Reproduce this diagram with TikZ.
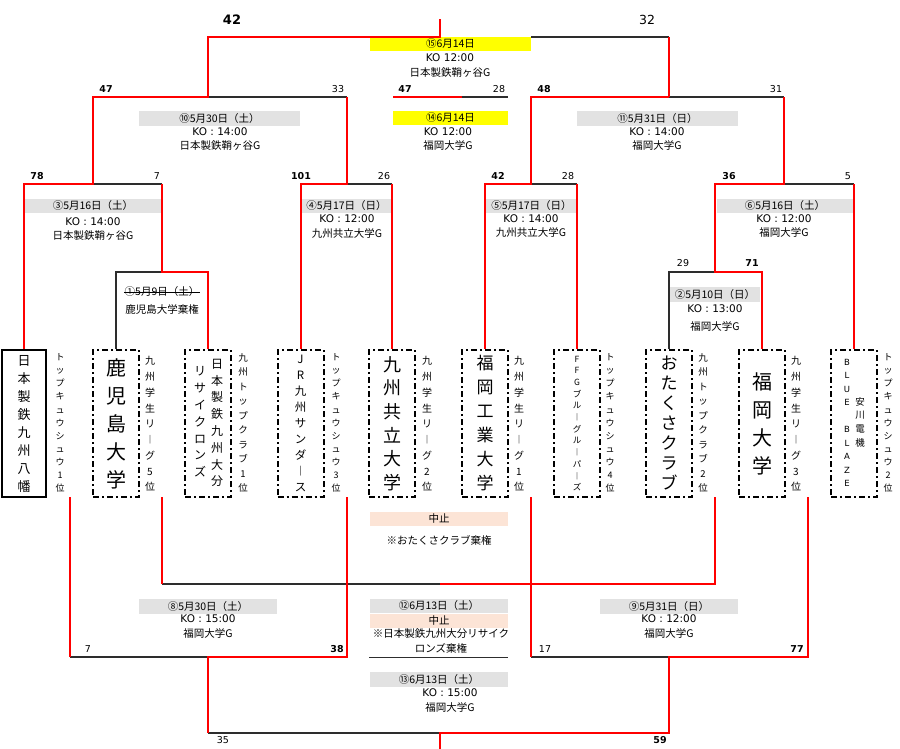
\documentclass[tikz,border=0pt]{standalone}
\usepackage{fontspec}
\setmainfont{Noto Sans CJK JP}
\newfontfamily\latinfont{DejaVu Sans}
\usetikzlibrary{positioning}

\definecolor{winred}{RGB}{255,0,0}
\definecolor{loseline}{RGB}{45,45,45}
\definecolor{dategrey}{RGB}{226,226,226}
\definecolor{finalyellow}{RGB}{255,255,0}
\definecolor{cancelpink}{RGB}{252,228,214}

\tikzstyle{win} = [draw=winred, line width=2pt]
\tikzstyle{lose} = [draw=loseline, line width=1.4pt]
\tikzstyle{teambox} = [rectangle, draw=black, line width=2pt, dash pattern=on 6pt off 3pt on 2pt off 3pt, minimum width=46pt, minimum height=147pt, inner sep=0pt, align=center]
\tikzstyle{solidbox} = [rectangle, draw=black, line width=2pt, minimum width=44pt, minimum height=147pt, inner sep=0pt, align=center]
\tikzstyle{dateband} = [rectangle, fill=dategrey, minimum height=14.5pt, inner sep=0pt, font=\fontsize{10.5}{12}\selectfont]
\tikzstyle{info} = [inner sep=0pt, align=center, font=\fontsize{10.5}{14.5}\selectfont]
\tikzstyle{score} = [inner sep=0pt, font=\latinfont\fontsize{9.5}{10}\selectfont]
\tikzstyle{winscore} = [inner sep=0pt, font=\latinfont\bfseries\fontsize{9.5}{10}\selectfont]
\tikzstyle{league} = [inner sep=0pt, align=center]

\begin{document}
\begin{tikzpicture}[x=1pt, y=-1pt]
\useasboundingbox (0,0) rectangle (900,749);

% Teams
\node (t1) [solidbox, font=\fontsize{13}{18}\selectfont] at (24,423.5) {日\\本\\製\\鉄\\九\\州\\八\\幡};
\node (t2) [teambox, font=\fontsize{20}{28}\selectfont] at (116,423.5) {鹿\\児\\島\\大\\学};
\node (t3) [teambox] at (208,423.5) {};
\node (t3a) [league, font=\fontsize{12}{16.8}\selectfont] at (200,422) {リ\\サ\\イ\\ク\\ロ\\ン\\ズ};
\node (t3b) [league, font=\fontsize{12}{16.8}\selectfont] at (217,423) {日\\本\\製\\鉄\\九\\州\\大\\分};
\node (t4) [teambox, font=\fontsize{11.5}{16}\selectfont] at (300.5,423.5) {J\\R\\九\\州\\サ\\ン\\ダ\\︱\\ス};
\node (t5) [teambox, font=\fontsize{18}{23.6}\selectfont] at (392,423.5) {九\\州\\共\\立\\大\\学};
\node (t6) [teambox, font=\fontsize{17}{24}\selectfont] at (485,423.5) {福\\岡\\工\\業\\大\\学};
\node (t7) [teambox, font=\fontsize{8.5}{11.7}\selectfont] at (577,423.5) {F\\F\\G\\ブ\\ル\\︱\\グ\\ル\\︱\\パ\\︱\\ズ};
\node (t8) [teambox, font=\fontsize{17}{20}\selectfont] at (669,423.5) {お\\た\\く\\さ\\ク\\ラ\\ブ};
\node (t9) [teambox, font=\fontsize{20}{28}\selectfont] at (762,423.5) {福\\岡\\大\\学};
\node (t10) [teambox] at (854,423.5) {};
\node (t10a) [league, font=\latinfont\fontsize{8.5}{13.5}\selectfont] at (847,423) {B\\L\\U\\E\\\mbox{}\\B\\L\\A\\Z\\E};
\node (t10b) [league, font=\fontsize{9.5}{13.7}\selectfont] at (860,422) {安\\川\\電\\機};

% Leagues
\node (l1) [league, font=\fontsize{9}{13.1}\selectfont] at (60,423) {ト\\ッ\\プ\\キ\\ュ\\ウ\\シ\\ュ\\ウ\\1\\位};
\node (l2) [league, font=\fontsize{10}{15.75}\selectfont] at (150,424) {九\\州\\学\\生\\リ\\︱\\グ\\5\\位};
\node (l3) [league, font=\fontsize{9.5}{14.5}\selectfont] at (243,423) {九\\州\\ト\\ッ\\プ\\ク\\ラ\\ブ\\1\\位};
\node (l4) [league, font=\fontsize{9}{13.1}\selectfont] at (336,423) {ト\\ッ\\プ\\キ\\ュ\\ウ\\シ\\ュ\\ウ\\3\\位};
\node (l5) [league, font=\fontsize{10}{15.75}\selectfont] at (427,424) {九\\州\\学\\生\\リ\\︱\\グ\\2\\位};
\node (l6) [league, font=\fontsize{10}{15.75}\selectfont] at (519,424) {九\\州\\学\\生\\リ\\︱\\グ\\1\\位};
\node (l7) [league, font=\fontsize{9}{13.1}\selectfont] at (610,423) {ト\\ッ\\プ\\キ\\ュ\\ウ\\シ\\ュ\\ウ\\4\\位};
\node (l8) [league, font=\fontsize{9.5}{14.5}\selectfont] at (703,423) {九\\州\\ト\\ッ\\プ\\ク\\ラ\\ブ\\2\\位};
\node (l9) [league, font=\fontsize{10}{15.75}\selectfont] at (796,424) {九\\州\\学\\生\\リ\\︱\\グ\\3\\位};
\node (l10) [league, font=\fontsize{9}{13.1}\selectfont] at (888,423) {ト\\ッ\\プ\\キ\\ュ\\ウ\\シ\\ュ\\ウ\\2\\位};

% Match dates
\node (d15) [dateband, fill=finalyellow, minimum width=161pt] at (450.5,44) {⑮6月14日};
\node (k15) [info, font=\fontsize{10.5}{15}\selectfont] at (450,65.5) {{\latinfont KO 12:00}\\日本製鉄鞘ヶ谷G};
\node (d14) [dateband, fill=finalyellow, minimum width=115pt] at (450.5,118) {⑭6月14日};
\node (k14) [info, font=\fontsize{10.5}{14}\selectfont] at (448,139) {{\latinfont KO 12:00}\\福岡大学G};
\node (d10) [dateband, minimum width=161pt] at (219.5,118.5) {⑩5月30日（土）};
\node (k10) [info, font=\fontsize{10.5}{14}\selectfont] at (220,139) {{\latinfont KO : 14:00}\\日本製鉄鞘ヶ谷G};
\node (d11) [dateband, minimum width=161pt] at (657.5,118.5) {⑪5月31日（日）};
\node (k11) [info, font=\fontsize{10.5}{14}\selectfont] at (657,139) {{\latinfont KO : 14:00}\\福岡大学G};
\node (d3) [dateband, minimum width=138pt] at (93,206) {③5月16日（土）};
\node (k3) [info, font=\fontsize{10.5}{14}\selectfont] at (93,229) {{\latinfont KO : 14:00}\\日本製鉄鞘ヶ谷G};
\node (d4) [dateband, minimum width=91pt] at (346.5,206) {④5月17日（日）};
\node (k4) [info, font=\fontsize{10.5}{14.5}\selectfont] at (347,226.5) {{\latinfont KO : 12:00}\\九州共立大学G};
\node (d5) [dateband, minimum width=91pt] at (531.5,206) {⑤5月17日（日）};
\node (k5) [info, font=\fontsize{10.5}{14}\selectfont] at (531,226) {{\latinfont KO : 14:00}\\九州共立大学G};
\node (d6) [dateband, minimum width=136pt] at (785,206) {⑥5月16日（土）};
\node (k6) [info, font=\fontsize{10.5}{14}\selectfont] at (784,226) {{\latinfont KO : 12:00}\\福岡大学G};
\node (d2) [dateband, minimum width=90pt] at (715,294.5) {②5月10日（日）};
\node (k2) [info, font=\fontsize{10.5}{18}\selectfont] at (715,318) {{\latinfont KO : 13:00}\\福岡大学G};
\node (d1) [info] at (162,292) {①5月9日（土）};
\node (k1) [info] at (162,310) {鹿児島大学棄権};
\draw[line width=0.8pt] (d1.west) -- (d1.east);
\node (d7) [dateband, fill=cancelpink, minimum width=138pt] at (439,519) {中止};
\node (k7) [info] at (439,540) {※おたくさクラブ棄権};
\node (d8) [dateband, minimum width=138pt] at (208,606.5) {⑧5月30日（土）};
\node (k8) [info, font=\fontsize{10.5}{15}\selectfont] at (208,626.5) {{\latinfont KO : 15:00}\\福岡大学G};
\node (d9) [dateband, minimum width=138pt] at (669,606.5) {⑨5月31日（日）};
\node (k9) [info, font=\fontsize{10.5}{15}\selectfont] at (669,626.5) {{\latinfont KO : 12:00}\\福岡大学G};
\node (d12) [dateband, minimum width=138pt] at (439,606) {⑫6月13日（土）};
\node (c12) [dateband, fill=cancelpink, minimum width=138pt, below=0pt of d12] {中止};
\node (k12) [info, font=\fontsize{10.5}{15.5}\selectfont] at (441,641) {※日本製鉄九州大分リサイク\\ロンズ棄権};
\node (d13) [dateband, minimum width=138pt] at (439,679.5) {⑬6月13日（土）};
\node (k13) [info, font=\fontsize{10.5}{15}\selectfont] at (450,701) {{\latinfont KO : 15:00}\\福岡大学G};

% Junctions
\coordinate (m1out) at (162,272);
\coordinate (m2out) at (715,272);
\coordinate (m3out) at (93,184);
\coordinate (m3r) at (162,184);
\coordinate (m4out) at (347,184);
\coordinate (m4r) at (392,184);
\coordinate (m5out) at (531,184);
\coordinate (m5r) at (577,184);
\coordinate (m6out) at (784,184);
\coordinate (m6r) at (854,184);
\coordinate (m10out) at (208,97);
\coordinate (m10r) at (347,97);
\coordinate (m11out) at (669,97);
\coordinate (m11r) at (784,97);
\coordinate (m14l) at (393,97);
\coordinate (m14mid) at (462,97);
\coordinate (m14r) at (508,97);
\coordinate (m15out) at (440,37);
\coordinate (m15gap) at (531,37);
\coordinate (m15r) at (669,37);
\coordinate (m15top) at (440,19);
\coordinate (b1) at (70,497);
\coordinate (b2) at (162,497);
\coordinate (b4) at (347,497);
\coordinate (b6) at (531,497);
\coordinate (b8) at (715,497);
\coordinate (b9) at (808,497);
\coordinate (m7l) at (162,584);
\coordinate (m7out) at (440,584);
\coordinate (m8l) at (70,657);
\coordinate (m8out) at (208,657);
\coordinate (m9l) at (531,657);
\coordinate (m9out) at (669,657);
\coordinate (m12l) at (369,657);
\coordinate (m12r) at (508,657);
\coordinate (m13l) at (208,733);
\coordinate (m13out) at (440,733);
\coordinate (m13bot) at (440,750);

% Lines (lost side)
\draw[lose] (t2.north) |- (m1out);
\draw[lose] (m3out) -- (m3r);
\draw[lose] (m10out) -- (m10r);
\draw[lose] (m4out) -- (m4r);
\draw[lose] (m15gap) -- (m15r);
\draw[lose] (m14mid) -- (m14r);
\draw[lose] (m11out) -- (m11r);
\draw[lose] (m5out) -- (m5r);
\draw[lose] (m6out) -- (m6r);
\draw[lose] (t8.north) |- (m2out);
\draw[lose] (m7l) -- (m7out);
\draw[lose] (m8l) -- (m8out);
\draw[lose] (m9l) -- (m9out);
\draw[lose] (m13l) -- (m13out);
\draw[lose, line width=1pt] (m12l) -- (m12r);

% Lines (won side)
\draw[win] (t3.north) |- (m1out) -- (m3r);
\draw[win] (t1.north) |- (m3out) |- (m10out) |- (m15out) -- (m15top);
\draw[win] (t4.north) |- (m4out) -- (m10r);
\draw[win] (m4r) -- (t5.north);
\draw[win] (m14l) -- (m14mid);
\draw[win] (m15r) -- (m11out);
\draw[win] (t6.north) |- (m5out) |- (m11out);
\draw[win] (m5r) -- (t7.north);
\draw[win] (t9.north) |- (m2out) |- (m6out) -- (m11r);
\draw[win] (m6r) -- (t10.north);
\draw[win] (b2) -- (m7l);
\draw[win] (b8) |- (m7out);
\draw[win] (b1) -- (m8l);
\draw[win] (b4) |- (m8out) -- (m13l);
\draw[win] (b6) -- (m9l);
\draw[win] (b9) |- (m9out) |- (m13out) -- (m13bot);

% Scores
\node (s15a) [winscore, font=\latinfont\bfseries\fontsize{13}{14}\selectfont] at (232,20) {42};
\node (s15b) [score, font=\latinfont\fontsize{12.5}{14}\selectfont] at (647,20) {32};
\node (s10a) [winscore] at (106,89) {47};
\node (s10b) [score] at (338,89) {33};
\node (s14a) [winscore] at (405,89) {47};
\node (s14b) [score] at (499,89) {28};
\node (s11a) [winscore] at (544,89) {48};
\node (s11b) [score] at (776,89) {31};
\node (s3a) [winscore] at (37,176) {78};
\node (s3b) [score] at (157,176) {7};
\node (s4a) [winscore] at (301,176) {101};
\node (s4b) [score] at (384,176) {26};
\node (s5a) [winscore] at (498,176) {42};
\node (s5b) [score] at (568,176) {28};
\node (s6a) [winscore] at (729,176) {36};
\node (s6b) [score] at (848,176) {5};
\node (s2a) [score] at (683,263) {29};
\node (s2b) [winscore] at (752,263) {71};
\node (s8a) [score] at (88,649) {7};
\node (s8b) [winscore] at (337,649) {38};
\node (s9a) [score] at (545,649) {17};
\node (s9b) [winscore] at (797,649) {77};
\node (s13a) [score] at (223,740) {35};
\node (s13b) [winscore] at (660,740) {59};
\end{tikzpicture}
\end{document}
